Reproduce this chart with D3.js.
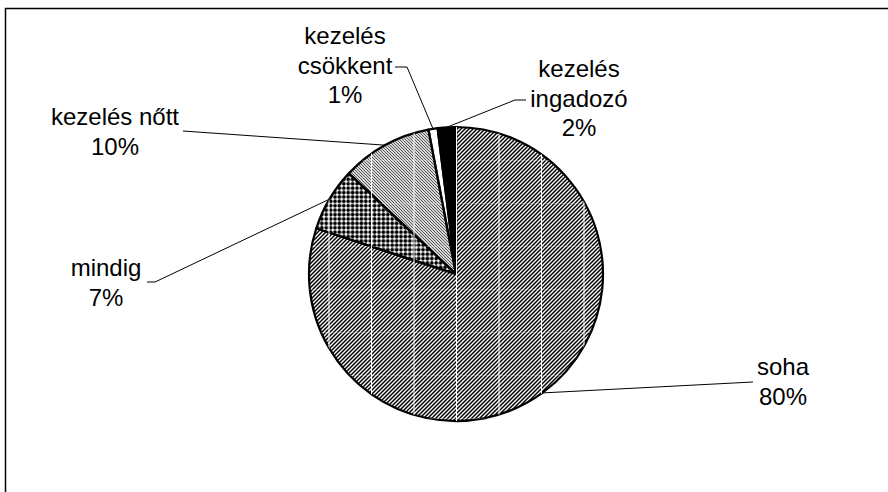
<!DOCTYPE html>
<html lang="hu">
<head>
<meta charset="UTF-8">
<title>Kezelés megoszlása</title>
<style>
    body {
        margin: 0;
        padding: 0;
        background-color: #fff;
    }
    svg text {
        font-family: "Liberation Sans", Arial, sans-serif;
        font-size: 24px;
        fill: #000;
    }
</style>
</head>
<body>
<svg id="chart" width="888" height="492"></svg>

<script src="https://d3js.org/d3.v7.min.js"></script>
<script>
    // adatok
    const categories = ["soha", "mindig", "kezelés nőtt", "kezelés csökkent", "kezelés ingadozó"];
    const values = [80, 7, 10, 1, 2];
    const labelLines = [["soha"], ["mindig"], ["kezelés nőtt"], ["kezelés", "csökkent"], ["kezelés", "ingadozó"]];
    const fills = ["url(#hatchUp)", "url(#dots)", "url(#hatchDown)", "#fff", "#000"];

    // címkék helye (x közép, első alapvonal, vezetővonal kezdete)
    const labelLayout = [
        { x: 783, y: 375, lead: [[753, 382]] },
        { x: 106, y: 276, lead: [[147, 282], [155, 282]] },
        { x: 115, y: 125, lead: [[183, 131]] },
        { x: 345, y: 44,  lead: [[395, 67], [407, 67]] },
        { x: 579, y: 77,  lead: [[526, 100], [515, 100]] }
    ];
    const lineHeight = 29.5;

    const cx = 456, cy = 274, r = 147;

    const svg = d3.select("#chart");

    // keret
    svg.append("rect")
        .attr("x", 5.5)
        .attr("y", 8.5)
        .attr("width", 900)
        .attr("height", 500)
        .attr("fill", "#fff")
        .attr("stroke", "#000")
        .attr("stroke-width", 1.5);

    // mintázatok
    const defs = svg.append("defs");

    const up = defs.append("pattern")
        .attr("id", "hatchUp")
        .attr("patternUnits", "userSpaceOnUse")
        .attr("width", 4).attr("height", 4);
    up.append("rect").attr("width", 4).attr("height", 4).attr("fill", "#fff");
    up.append("path")
        .attr("d", "M0,4 L4,0 M-1,1 L1,-1 M3,5 L5,3")
        .attr("stroke", "#000")
        .attr("stroke-width", 1.5);

    const down = defs.append("pattern")
        .attr("id", "hatchDown")
        .attr("patternUnits", "userSpaceOnUse")
        .attr("width", 3).attr("height", 3);
    down.append("rect").attr("width", 3).attr("height", 3).attr("fill", "#d6d6d6");
    down.append("path")
        .attr("d", "M0,0 L3,3 M-1,2 L1,4 M2,-1 L4,1")
        .attr("stroke", "#5a5a5a")
        .attr("stroke-width", 1);

    const dots = defs.append("pattern")
        .attr("id", "dots")
        .attr("patternUnits", "userSpaceOnUse")
        .attr("width", 4.4).attr("height", 4.4);
    dots.append("rect").attr("width", 4.4).attr("height", 4.4).attr("fill", "#fff");
    dots.append("circle")
        .attr("cx", 2.2).attr("cy", 2.2).attr("r", 1.9)
        .attr("fill", "#000");

    // a minta csempézésének fehér csíkjai
    const seams = defs.append("pattern")
        .attr("id", "seams")
        .attr("patternUnits", "userSpaceOnUse")
        .attr("x", 0).attr("y", 15)
        .attr("width", 42.5).attr("height", 43);
    seams.append("rect")
        .attr("x", 0).attr("y", 0).attr("width", 1).attr("height", 43)
        .attr("fill", "#fff");
    seams.append("rect")
        .attr("x", 0).attr("y", 0).attr("width", 42.5).attr("height", 1)
        .attr("fill", "#fff").attr("opacity", 0.25);

    const pie = d3.pie().sort(null).value(d => d);
    const arcs = pie(values);
    const arc = d3.arc().innerRadius(0).outerRadius(r);

    const g = svg.append("g").attr("transform", `translate(${cx},${cy})`);

    g.selectAll("path.slice")
        .data(arcs)
        .enter()
        .append("path")
        .attr("class", "slice")
        .attr("d", arc)
        .attr("fill", (d, i) => fills[i]);

    // csíkok csak a mintás szeleteken
    svg.append("g")
        .selectAll("path")
        .data(arcs.filter((d, i) => i < 3))
        .enter()
        .append("path")
        .attr("d", d => d3.arc().innerRadius(0).outerRadius(r)(d))
        .attr("transform", `translate(${cx},${cy})`)
        .attr("fill", "url(#seams)");

    g.selectAll("path.edge")
        .data(arcs)
        .enter()
        .append("path")
        .attr("class", "edge")
        .attr("d", arc)
        .attr("fill", "none")
        .attr("stroke", "#000")
        .attr("stroke-width", 2.2)
        .attr("stroke-linejoin", "round");

    // vezetővonalak
    arcs.forEach((d, i) => {
        const a = (d.startAngle + d.endAngle) / 2;
        const end = [cx + r * Math.sin(a), cy - r * Math.cos(a)];
        const pts = labelLayout[i].lead.concat([end]);
        svg.append("path")
            .attr("d", d3.line()(pts))
            .attr("fill", "none")
            .attr("stroke", "#000")
            .attr("stroke-width", 1);
    });

    // címkék
    categories.forEach((c, i) => {
        const lines = labelLines[i].concat([values[i] + "%"]);
        const t = svg.append("text")
            .attr("text-anchor", "middle")
            .attr("x", labelLayout[i].x)
            .attr("y", labelLayout[i].y);
        lines.forEach((s, j) => {
            t.append("tspan")
                .attr("x", labelLayout[i].x)
                .attr("dy", j === 0 ? 0 : lineHeight)
                .text(s);
        });
    });
</script>
</body>
</html>
